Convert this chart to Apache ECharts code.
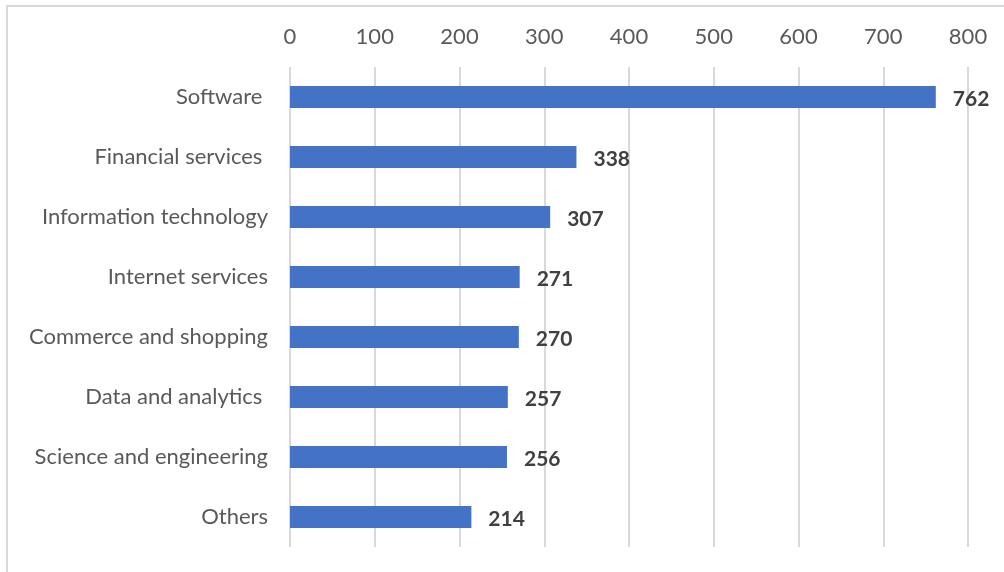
<!DOCTYPE html>
<html>
<head>
<meta charset="utf-8">
<script src="https://cdn.jsdelivr.net/npm/echarts@6/dist/echarts.min.js"></script>
<style>
  html, body { margin: 0; padding: 0; background: #ffffff; }
  #chart { width: 1004px; height: 572px; }
</style>
</head>
<body>
<div id="chart"></div>
<script>
// Industry categories, top to bottom
const categories = [
  'Software ',
  'Financial services ',
  'Information technology',
  'Internet services',
  'Commerce and shopping',
  'Data and analytics ',
  'Science and engineering',
  'Others'
];
// Count per industry
const counts = [762, 338, 307, 271, 270, 257, 256, 214];
// Value axis ticks
const tickValues = [0, 100, 200, 300, 400, 500, 600, 700, 800];

const FONT = 'Lato, "Open Sans", sans-serif';

const chart = echarts.init(document.getElementById('chart'), null, { renderer: 'canvas' });
chart.setOption({
  backgroundColor: '#ffffff',
  animation: false,
  graphic: [{
    type: 'rect',
    silent: true,
    shape: { x: 7, y: 6, width: 1200, height: 800 },
    style: { fill: 'none', stroke: '#d9d9d9', lineWidth: 2 }
  }],
  grid: { left: 290, right: 36, top: 67, bottom: 25, containLabel: false },
  xAxis: {
    type: 'value',
    position: 'top',
    min: tickValues[0],
    max: tickValues[tickValues.length - 1],
    interval: tickValues[1] - tickValues[0],
    axisLine: { show: false },
    axisTick: { show: false },
    axisLabel: { color: '#595959', fontSize: 22, fontFamily: FONT, margin: 19 },
    splitLine: { show: true, lineStyle: { color: '#d9d9d9', width: 2 } }
  },
  yAxis: {
    type: 'category',
    inverse: true,
    data: categories,
    axisLine: { show: false },
    axisTick: { show: false },
    axisLabel: { color: '#595959', fontSize: 22, fontFamily: FONT, margin: 22 }
  },
  series: [{
    type: 'bar',
    data: counts,
    barWidth: 22,
    itemStyle: { color: '#4472c4' },
    label: {
      show: true,
      position: 'right',
      distance: 17,
      offset: [0, 2],
      color: '#404040',
      fontSize: 21,
      fontWeight: 'bold',
      fontFamily: FONT
    }
  }]
});
</script>
</body>
</html>
